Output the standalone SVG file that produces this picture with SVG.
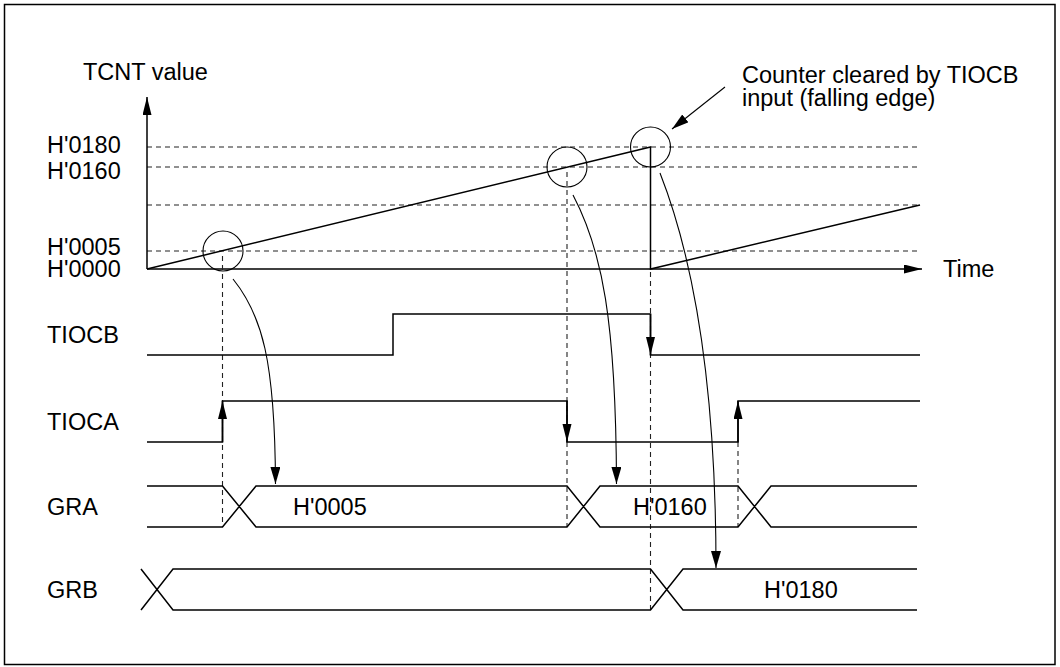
<svg xmlns="http://www.w3.org/2000/svg" width="1060" height="667" viewBox="0 0 1060 667">
<style>
text{font-family:"Liberation Sans",Arial,sans-serif;font-size:23.5px;fill:#000}
.ln{fill:none;stroke:#000;stroke-width:1.5}
.thin{fill:none;stroke:#000;stroke-width:1.1}
.dash{fill:none;stroke:#222;stroke-width:1.1;stroke-dasharray:5 4}
.arr{fill:none;stroke:#000;stroke-width:1.5;marker-end:url(#ah)}
.carr{fill:none;stroke:#000;stroke-width:1.1;marker-end:url(#ahs)}
</style>
<defs>
<marker id="ah" markerUnits="userSpaceOnUse" markerWidth="18" markerHeight="10" refX="18" refY="4.5" orient="auto"><path d="M0,0 L18,4.5 L0,9 z" fill="#000"/></marker>
<marker id="ahs" markerUnits="userSpaceOnUse" markerWidth="17" markerHeight="11" refX="17" refY="5" orient="auto"><path d="M0,0 L17,5 L0,10 z" fill="#000"/></marker>
</defs>
<rect x="4.5" y="4.5" width="1050.5" height="660" fill="#fff" stroke="#000" stroke-width="1.5"/>

<g id="counter-graph">
<line class="dash" x1="147" y1="147" x2="920" y2="147"/>
<line class="dash" x1="147" y1="167" x2="920" y2="167"/>
<line class="dash" x1="147" y1="205" x2="920" y2="205"/>
<line class="dash" x1="147" y1="251" x2="920" y2="251"/>
<line class="arr" x1="147" y1="269" x2="147" y2="97"/>
<line class="arr" x1="147" y1="269" x2="922" y2="269"/>
<path class="ln" d="M147,269 L650.5,147 V269 L920,205"/>
<circle class="thin" cx="223" cy="251" r="20"/>
<circle class="thin" cx="567" cy="167" r="20"/>
<circle class="thin" cx="650.5" cy="147" r="20"/>
<text x="83" y="80">TCNT value</text>
<text x="943" y="277">Time</text>
<text x="47" y="153">H'0180</text>
<text x="47" y="179">H'0160</text>
<text x="47" y="255">H'0005</text>
<text x="47" y="277">H'0000</text>
<text x="742" y="83">Counter cleared by TIOCB</text>
<text x="742" y="106">input (falling edge)</text>
</g>

<g id="guides">
<line class="dash" x1="222.5" y1="256" x2="222.5" y2="527"/>
<line class="dash" x1="567" y1="172" x2="567" y2="527"/>
<line class="dash" x1="650.5" y1="272" x2="650.5" y2="610"/>
<line class="dash" x1="738" y1="442" x2="738" y2="527"/>
</g>

<g id="tiocb">
<text x="47" y="343">TIOCB</text>
<polyline class="ln" points="147,355 393,355 393,314 650.5,314 650.5,355 920,355"/>
<line class="arr" x1="650.5" y1="314" x2="650.5" y2="355"/>
</g>

<g id="tioca">
<text x="47" y="430">TIOCA</text>
<polyline class="ln" points="147,442 222.5,442 222.5,401 567,401 567,442 738,442 738,401 920,401"/>
<line class="arr" x1="222.5" y1="442" x2="222.5" y2="401"/>
<line class="arr" x1="567" y1="401" x2="567" y2="442"/>
<line class="arr" x1="738" y1="442" x2="738" y2="401"/>
</g>

<g id="gra">
<text x="47" y="515">GRA</text>
<path class="ln" d="M147,486 H222.5 L256,527 H567 L600,486 H738 L771,527 H917 M147,527 H222.5 L256,486 H567 L600,527 H738 L771,486 H917"/>
<text x="293" y="515">H'0005</text>
<text x="633" y="515">H'0160</text>
</g>

<g id="grb">
<text x="47" y="598">GRB</text>
<path class="ln" d="M141,569 L173,610 H650.5 L683,569 H917 M141,610 L173,569 H650.5 L683,610 H917"/>
<text x="764" y="598">H'0180</text>
</g>

<g id="connectors">
<path class="carr" d="M233,279 C262,315 275,360 275.5,484"/>
<path class="carr" d="M573,195 C602,250 616,320 616.5,484"/>
<path class="carr" d="M660,173 C698,270 716,400 716,568"/>
<line class="carr" x1="725" y1="87" x2="672" y2="129"/>
</g>
</svg>
